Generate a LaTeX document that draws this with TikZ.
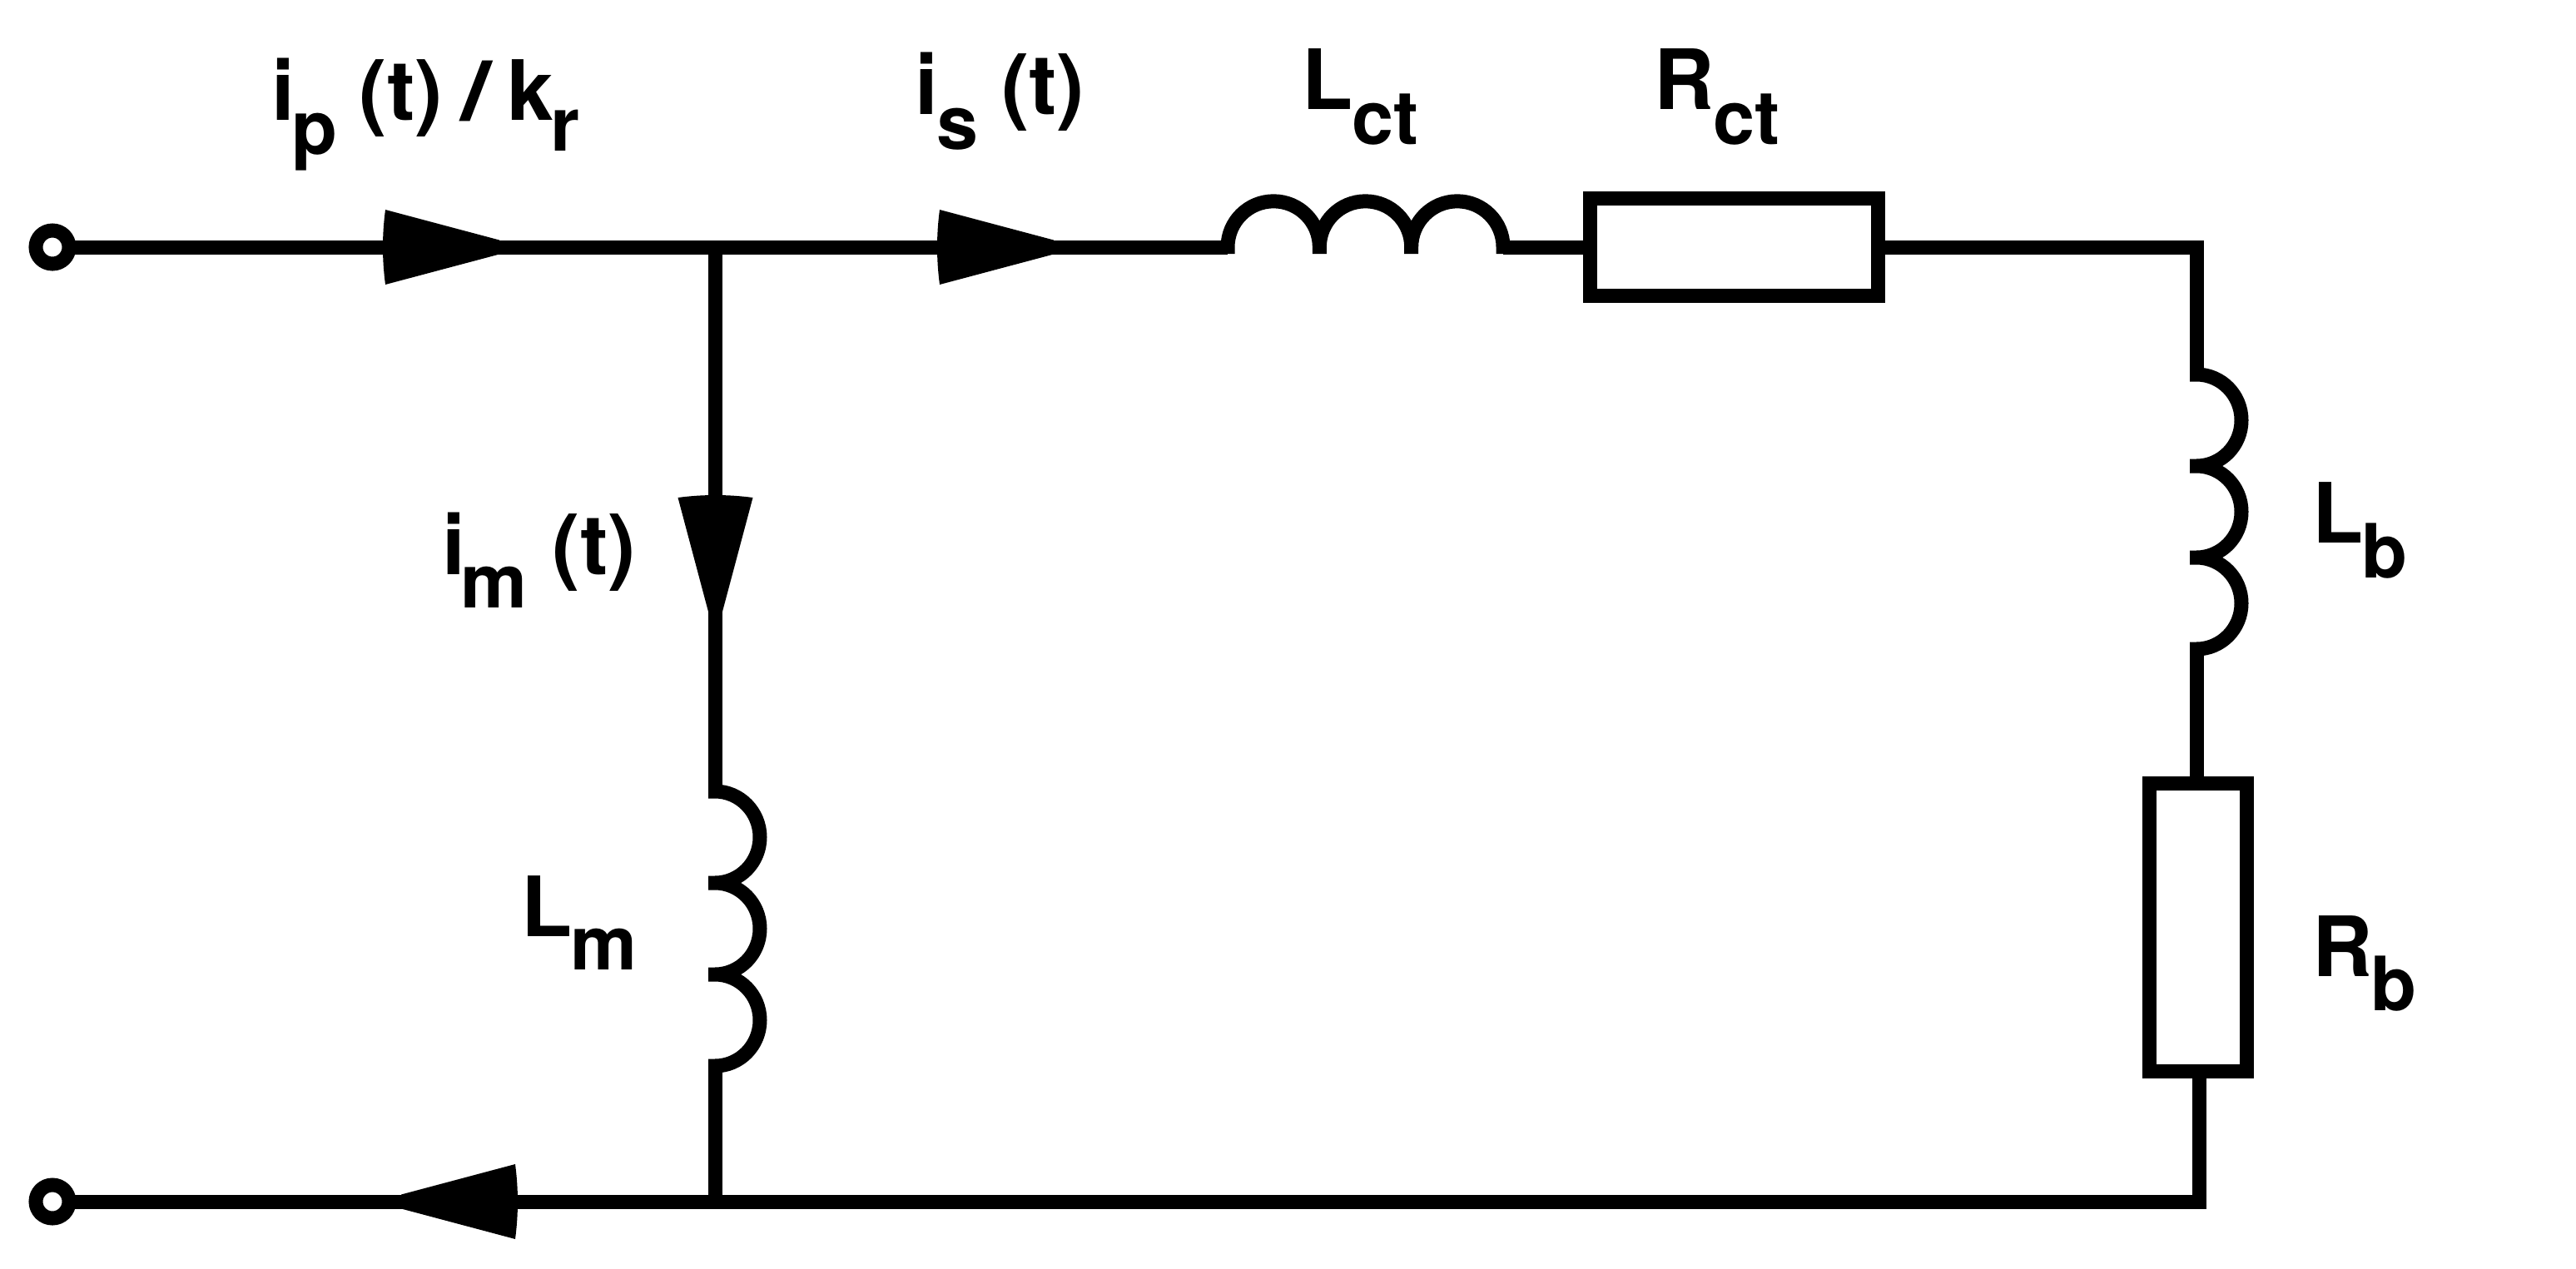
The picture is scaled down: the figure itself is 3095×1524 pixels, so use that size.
\documentclass[tikz,border=0pt]{standalone}
\usepackage{fontspec}
\usepackage{graphicx}
\usetikzlibrary{calc}
\setmainfont{TeX Gyre Heros}
\newcommand\subt[2]{\raisebox{-#1pt}{\fontsize{90}{100}\selectfont #2}}
\newcommand\kn[1]{\hspace*{#1pt}}
\tikzset{
  wire/.style={line width=17pt,line join=miter,line cap=butt},
  coil/.style={line width=17pt,line join=bevel,line cap=butt},
  term/.style={circle,draw,fill=white,line width=17pt,minimum size=40pt,inner sep=0pt,outer sep=0pt},
  res/.style={rectangle,draw,fill=white,line width=17pt,inner sep=0pt,outer sep=0pt},
  lab/.style={anchor=base west,inner sep=0pt,outer sep=0pt,font=\fontsize{100}{110}\selectfont\bfseries},
  headfill/.style={fill=black,draw=none},
  currenthead/.pic={\path[headfill] (0,-8.5) -- (-137,-45) .. controls (-141,-15) and (-141,15) .. (-137,45) -- (0,8.5) -- cycle;}
}
\begin{document}
\begin{tikzpicture}[x=1pt,y=-1pt]
\path[use as bounding box,fill=white] (0,0) rectangle (3095,1524);
% terminals and elements
\node[term] (T1) at (63,297) {};
\node[term] (T2) at (63,1444) {};
\node[res,minimum width=346pt,minimum height=117pt] (Rct) at (2083.5,297) {};
\node[res,minimum width=117pt,minimum height=346pt] (Rb) at (2641,1114.75) {};
% junction and end coordinates
\coordinate (J) at (859,297);
\coordinate (JB) at (859,1444);
\coordinate (LctL) at (1475,297);
\coordinate (LctR) at (1806,297);
\coordinate (C1) at (2639,297.5);
\coordinate (LbT) at (2639,450);
\coordinate (LbB) at (2639,780);
\coordinate (LmT) at (859,951);
\coordinate (LmB) at (859,1281);
\coordinate (BR) at (2642.5,1444);
% wires
\draw[wire] (T1.east) -- (J) -- (LctL);
\draw[wire] (LctR) -- (Rct.west |- LctR);
\draw[wire] (Rct.east |- C1) -- (C1) -- (LbT);
\draw[wire] (LbB) -- (LbB |- Rb.north);
\draw[wire] (J) -- (LmT);
\draw[wire] (LmB) -- (JB);
\draw[wire] (T2.east) -- (BR) -- (BR |- Rb.south);
% horizontal inductor
\draw[coil] ($(LctL)+(0,8)$) -- (LctL) arc[start angle=180,end angle=360,radius=55.17]
  -- ++(0,8) -- ++(0,-8) arc[start angle=180,end angle=360,radius=55.17]
  -- ++(0,8) -- ++(0,-8) arc[start angle=180,end angle=360,radius=55.17] -- ++(0,8);
% vertical inductors
\draw[coil] (LbT) -- ++(-8,0) -- ++(8,0) arc[start angle=-90,end angle=90,x radius=54,y radius=55]
  -- ++(-8,0) -- ++(8,0) arc[start angle=-90,end angle=90,x radius=54,y radius=55]
  -- ++(-8,0) -- ++(8,0) arc[start angle=-90,end angle=90,x radius=54,y radius=55] -- ++(-8,0);
\draw[coil] (LmT) -- ++(-8,0) -- ++(8,0) arc[start angle=-90,end angle=90,x radius=54,y radius=55]
  -- ++(-8,0) -- ++(8,0) arc[start angle=-90,end angle=90,x radius=54,y radius=55]
  -- ++(-8,0) -- ++(8,0) arc[start angle=-90,end angle=90,x radius=54,y radius=55] -- ++(-8,0);
% arrowheads
\pic at (600,297) {currenthead};
\pic at (1266,297) {currenthead};
\pic[rotate=-90] at (859.5,735) {currenthead};
\pic[rotate=180] at (482,1444) {currenthead};
% labels
\node[lab] (lip) at (326,144) {i\kn{-3}\subt{41}{p}\kn{26}(t)\kn{22}\scalebox{1.35}[1]{/}\kn{18}k\kn{-3}\subt{37}{r}};
\node[lab] (lis) at (1099.5,137) {i\kn{-2}\subt{42}{s}\kn{28}(t)};
\node[lab] (lim) at (531,690) {i\kn{-5}\subt{40}{m}\kn{30}(t)};
\node[lab] (lLct) at (1564,131) {L\kn{-1}\subt{42}{ct}};
\node[lab] (lRct) at (1987,131) {R\kn{-1}\subt{42}{ct}};
\node[lab] (lLb) at (2778,652) {L\kn{-2}\subt{42}{b}};
\node[lab] (lRb) at (2778,1173) {R\kn{-2}\subt{41}{b}};
\node[lab] (lLm) at (626,1125) {L\kn{-2}\subt{40}{m}};
\end{tikzpicture}
\end{document}
